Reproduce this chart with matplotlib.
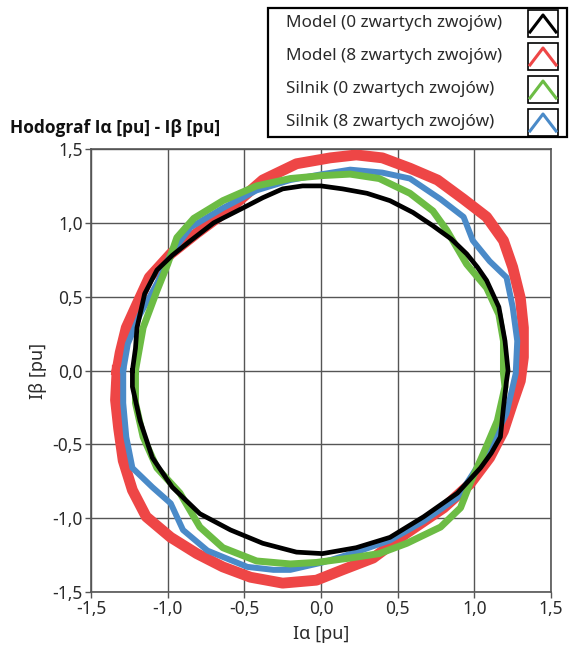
import matplotlib
matplotlib.use("Agg")
import matplotlib.pyplot as plt
from matplotlib.ticker import FuncFormatter, MultipleLocator
from matplotlib.patches import Rectangle

plt.rcParams["font.family"] = ["Noto Sans", "DejaVu Sans"]

# hodograf - punkty (Ialfa, Ibeta) [pu]
model0_x = [-1.23, -1.21, -1.20, -1.15, -1.07, -0.97, -0.85, -0.70, -0.51, -0.38, -0.25, -0.12, 0.00, 0.14,
            0.30, 0.45, 0.60, 0.73, 0.85, 0.95, 1.02, 1.08, 1.16, 1.20, 1.22, 1.21, 1.19, 1.17, 1.11,
            1.04, 0.89, 0.67, 0.45, 0.23, 0.01, -0.16, -0.38, -0.59, -0.79, -0.97, -1.10, -1.18, -1.23]
model0_y = [0.00, 0.15, 0.29, 0.52, 0.68, 0.78, 0.88, 1.00, 1.10, 1.17, 1.23, 1.25, 1.25, 1.23,
            1.20, 1.15, 1.07, 0.98, 0.89, 0.79, 0.70, 0.61, 0.43, 0.20, 0.00, -0.07, -0.25, -0.45, -0.56,
            -0.66, -0.83, -0.99, -1.13, -1.20, -1.24, -1.23, -1.17, -1.08, -0.97, -0.79, -0.59, -0.34, -0.11]

model8_x = [-1.33, -1.31, -1.27, -1.20, -1.12, -0.98, -0.81, -0.59, -0.38, -0.16, 0.06, 0.23, 0.40, 0.58,
            0.76, 0.93, 1.08, 1.19, 1.25, 1.30, 1.32, 1.32, 1.30, 1.25, 1.19, 1.10, 0.97, 0.80, 0.56, 0.34,
            0.14, -0.03, -0.25, -0.46, -0.64, -0.81, -0.98, -1.14, -1.23, -1.29, -1.32, -1.34]
model8_y = [0.00, 0.12, 0.29, 0.45, 0.63, 0.79, 0.93, 1.10, 1.29, 1.40, 1.44, 1.46, 1.44, 1.37,
            1.29, 1.16, 1.04, 0.88, 0.70, 0.49, 0.29, 0.09, -0.07, -0.22, -0.41, -0.59, -0.77, -0.93, -1.10, -1.27,
            -1.35, -1.42, -1.44, -1.40, -1.33, -1.24, -1.13, -0.99, -0.81, -0.61, -0.39, -0.20]

silnik0_x = [-1.21, -1.16, -1.07, -1.00, -0.94, -0.83, -0.64, -0.42, -0.20, 0.01, 0.19, 0.38, 0.58, 0.73,
             0.82, 0.95, 1.08, 1.16, 1.19, 1.19, 1.20, 1.15, 1.06, 0.97, 0.91, 0.78, 0.56, 0.38, 0.19, -0.03,
             -0.20, -0.42, -0.64, -0.79, -0.92, -1.07, -1.16, -1.21]
silnik0_y = [0.00, 0.29, 0.54, 0.72, 0.90, 1.03, 1.15, 1.25, 1.30, 1.32, 1.33, 1.30, 1.20, 1.08,
             0.95, 0.72, 0.56, 0.38, 0.20, -0.02, -0.11, -0.34, -0.56, -0.77, -0.93, -1.06, -1.17, -1.24, -1.27, -1.30,
             -1.31, -1.29, -1.20, -1.06, -0.83, -0.66, -0.45, -0.22]

silnik8_x = [-1.29, -1.26, -1.18, -1.07, -0.98, -0.85, -0.64, -0.42, -0.20, 0.01, 0.19, 0.40, 0.58, 0.78,
             0.93, 0.99, 1.10, 1.21, 1.25, 1.28, 1.27, 1.25, 1.21, 1.10, 0.99, 0.89, 0.67, 0.45, 0.23, 0.01,
             -0.20, -0.31, -0.48, -0.74, -0.90, -0.98, -1.10, -1.23, -1.27, -1.29]
silnik8_y = [0.00, 0.18, 0.38, 0.59, 0.79, 0.97, 1.10, 1.22, 1.29, 1.33, 1.36, 1.34, 1.30, 1.16,
             1.04, 0.88, 0.74, 0.63, 0.43, 0.20, -0.02, -0.11, -0.29, -0.52, -0.70, -0.86, -1.02, -1.15, -1.23, -1.30,
             -1.35, -1.35, -1.33, -1.22, -1.08, -0.90, -0.79, -0.66, -0.45, -0.22]

series_names = ["Model (0 zwartych zwojów)", "Model (8 zwartych zwojów)",
                "Silnik (0 zwartych zwojów)", "Silnik (8 zwartych zwojów)"]
series_colors = ["#000000", "#ee4646", "#6cbc44", "#4a8ac8"]

fig = plt.figure(figsize=(5.70, 6.51), dpi=100)
W, H = 570.0, 651.0
ax = fig.add_axes([91 / W, 1 - 592 / H, (551 - 91) / W, (592 - 149) / H])


def zamknij(v):
    return list(v) + [v[0]]


# rysowanie: czerwony pod spodem, czarny na wierzchu
ax.plot(zamknij(model8_x), zamknij(model8_y), color=series_colors[1], lw=7.8)
ax.plot(zamknij(silnik8_x), zamknij(silnik8_y), color=series_colors[3], lw=4.3)
ax.plot(zamknij(silnik0_x), zamknij(silnik0_y), color=series_colors[2], lw=5.0)
ax.plot(zamknij(model0_x), zamknij(model0_y), color=series_colors[0], lw=3.4)

ax.set_xlim(-1.5, 1.5)
ax.set_ylim(-1.5, 1.5)
ax.xaxis.set_major_locator(MultipleLocator(0.5))
ax.yaxis.set_major_locator(MultipleLocator(0.5))
fmt = FuncFormatter(lambda v, p: "{:.1f}".format(v).replace(".", ",").replace("-0,0", "0,0"))
ax.xaxis.set_major_formatter(fmt)
ax.yaxis.set_major_formatter(fmt)
ax.grid(True, color="#555555", lw=1.0)
for s in ax.spines.values():
    s.set_color("#555555")
    s.set_linewidth(1.2)
ax.tick_params(direction="out", length=4, width=1, color="#555555", labelcolor="#2a2a2a",
               labelsize=12.5, pad=2)
ax.set_xlabel("Iα [pu]", fontsize=13, color="#2a2a2a", labelpad=5)
ax.set_ylabel("Iβ [pu]", fontsize=13, color="#2a2a2a", labelpad=4)

fig.text(10 / W, 1 - 128 / H, "Hodograf Iα [pu] - Iβ [pu]", fontsize=12.5, fontweight="bold",
         family=["Open Sans", "DejaVu Sans"], color="#111111", va="center", ha="left")

# legenda w stylu LabVIEW
lg = fig.add_axes([0, 0, 1, 1], facecolor="none")
lg.set_xlim(0, W)
lg.set_ylim(H, 0)
lg.axis("off")
lg.add_patch(Rectangle((268, 8), 299, 129, fill=False, ec="black", lw=1.6))
for i in range(len(series_names)):
    yc = 23 + i * 33
    lg.text(286, yc, series_names[i], fontsize=12.3, color="#2a2a2a", va="center", ha="left")
    lg.add_patch(Rectangle((528, yc - 13), 30, 27, fill=False, ec="black", lw=1.2))
    lg.plot([530, 543, 556], [yc + 9, yc - 8, yc + 9], color=series_colors[i], lw=2.2)

fig.savefig("out.png", dpi=100)
